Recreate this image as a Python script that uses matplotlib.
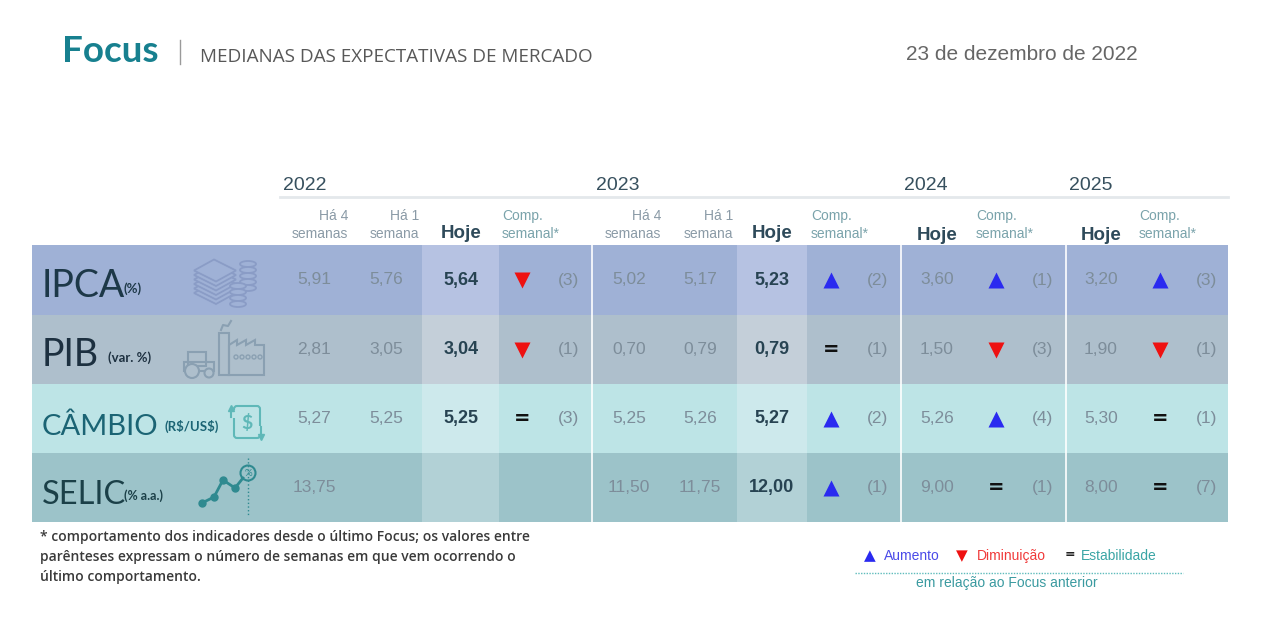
import matplotlib
matplotlib.use("Agg")
import matplotlib.pyplot as plt
from matplotlib.patches import Rectangle, Polygon, Ellipse, Circle, FancyBboxPatch

# ---- data ----
indicators = ["IPCA", "PIB", "CÂMBIO", "SELIC"]
units = ["(%)", "(var. %)", "(R$/US$)", "(% a.a.)"]

# 2022: ha 4 semanas, ha 1 semana, hoje, comp, semanas
y2022_4sem = [5.91, 2.81, 5.27, 13.75]
y2022_1sem = [5.76, 3.05, 5.25, None]
y2022_hoje = [5.64, 3.04, 5.25, None]
y2022_comp = ["down", "down", "eq", None]
y2022_wks = [3, 1, 3, None]

y2023_4sem = [5.02, 0.70, 5.25, 11.50]
y2023_1sem = [5.17, 0.79, 5.26, 11.75]
y2023_hoje = [5.23, 0.79, 5.27, 12.00]
y2023_comp = ["up", "eq", "up", "up"]
y2023_wks = [2, 1, 2, 1]

y2024_hoje = [3.60, 1.50, 5.26, 9.00]
y2024_comp = ["up", "down", "up", "eq"]
y2024_wks = [1, 3, 4, 1]

y2025_hoje = [3.20, 1.90, 5.30, 8.00]
y2025_comp = ["up", "down", "eq", "eq"]
y2025_wks = [3, 1, 1, 7]

# ---- style ----
row_bg = ["#9fb1d6", "#aebfcc", "#bde4e6", "#9cc3c9"]
row_hl = ["#b6c2e2", "#c4cfd9", "#cde9ec", "#b2d1d6"]
icon_col = ["#8a9cc6", "#8aa0b2", "#5fb8b8", "#2f8a90"]
label_col = ["#1d3848", "#1d3040", "#1b6474", "#1b4048"]
val_col = "#7d8d9a"
bold_col = "#274352"
up_col, down_col = "#2a2af0", "#ee1111"

SANS = "Liberation Sans"
LAB = "Lato"

fig = plt.figure(figsize=(12.88, 6.22), dpi=100)
ax = fig.add_axes([0, 0, 1, 1])
ax.set_xlim(0, 1288)
ax.set_ylim(622, 0)
ax.axis("off")

# title
ax.text(62, 51, "Focus", fontsize=26.5, fontweight="bold", color="#17808f",
        family=LAB, va="center", ha="left")
ax.plot([180, 180], [40, 64], color="#9a9a9a", lw=1)
ax.text(200, 57, "MEDIANAS DAS EXPECTATIVAS DE MERCADO", fontsize=13.6,
        color="#585858", family="Open Sans", va="center", ha="left")
ax.text(1138, 55, "23 de dezembro de 2022", fontsize=15, color="#666666",
        family=SANS, va="center", ha="right")

edges = [245, 315, 384, 453, 522]
left, right = 32, 1228
hl_spans = [(422, 499), (737, 807)]
seps = [592, 901, 1066]

for i in range(4):
    ax.add_patch(Rectangle((left, edges[i]), right - left, edges[i + 1] - edges[i],
                           facecolor=row_bg[i], edgecolor="none"))
    for a, b in hl_spans:
        ax.add_patch(Rectangle((a, edges[i]), b - a, edges[i + 1] - edges[i],
                               facecolor=row_hl[i], edgecolor="none"))
for s in seps:
    ax.plot([s, s], [edges[0], edges[-1]], color="white", lw=1.2)

# year header
ax.plot([280, 1228], [197, 197], color="#e4e8eb", lw=2)
for yr, x in zip(["2022", "2023", "2024", "2025"], [283, 596, 904, 1069]):
    ax.text(x, 185, yr, fontsize=14, color="#37505e", family=SANS,
            va="center", ha="left")

hdr_col = "#8a9aa6"
comp_col = "#7aa3ab"


def hdr_ha(xr, l1, l2):
    ax.text(xr, 216, l1, fontsize=10, color=hdr_col, family=SANS, ha="right", va="center")
    ax.text(xr, 234, l2, fontsize=10, color=hdr_col, family=SANS, ha="right", va="center")


def hdr_hoje(xc, y=234):
    ax.text(xc, y, "Hoje", fontsize=13.5, fontweight="bold", color="#2e4a5a",
            family=SANS, ha="center", va="center")


def hdr_comp(xl):
    ax.text(xl, 216, "Comp.", fontsize=10, color=comp_col, family=SANS, ha="left", va="center")
    ax.text(xl, 234, "semanal*", fontsize=10, color=comp_col, family=SANS, ha="left", va="center")


hdr_ha(348, "Há 4", "semanas")
hdr_ha(419, "Há 1", "semana")
hdr_hoje(461)
hdr_comp(502)
hdr_ha(661, "Há 4", "semanas")
hdr_ha(733, "Há 1", "semana")
hdr_hoje(772)
hdr_comp(811)
hdr_hoje(937, 236)
hdr_comp(976)
hdr_hoje(1101, 236)
hdr_comp(1139)


def fmt(v):
    return "" if v is None else f"{v:.2f}".replace(".", ",")


def val(x, y, v, bold=False):
    if v is None:
        return
    ax.text(x, y, fmt(v), fontsize=13 if bold else 12.5, family=SANS, ha="center",
            va="center", color=bold_col if bold else val_col,
            fontweight="bold" if bold else "normal")


def comp(x, y, c, n):
    if c is None:
        return
    if c == "up":
        ax.plot(x, y, marker="^", ms=11, color=up_col, mec="none")
    elif c == "down":
        ax.plot(x, y, marker="v", ms=11, color=down_col, mec="none")
    else:
        ax.text(x, y, "=", fontsize=14, fontweight="bold", color="#111111",
                family="DejaVu Sans", ha="center", va="center")
    ax.text(x + 47, y, f"({n})", fontsize=12.5, color=val_col, family=SANS,
            ha="center", va="center")


for i in range(4):
    yc = (edges[i] + edges[i + 1]) / 2
    val(314, yc, y2022_4sem[i])
    val(386, yc, y2022_1sem[i])
    val(461, yc, y2022_hoje[i], bold=True)
    comp(522, yc, y2022_comp[i], y2022_wks[i])
    val(629, yc, y2023_4sem[i])
    val(700, yc, y2023_1sem[i])
    val(772, yc, y2023_hoje[i], bold=True)
    comp(831, yc, y2023_comp[i], y2023_wks[i])
    val(937, yc, y2024_hoje[i])
    comp(996, yc, y2024_comp[i], y2024_wks[i])
    val(1101, yc, y2025_hoje[i])
    comp(1160, yc, y2025_comp[i], y2025_wks[i])

# row labels
lab_specs = [  # x of unit, label size, unit size
    (124, 27, 9.5),
    (108, 27, 9.5),
    (165, 21, 9.5),
    (124, 23.5, 9),
]
for i, (ux, fs, ufs) in enumerate(lab_specs):
    yb = edges[i + 1] - 18
    ax.text(42, yb, indicators[i], fontsize=fs, color=label_col[i], family=LAB,
            ha="left", va="baseline")
    ax.text(ux, yb - 4, units[i].replace("$", r"\$"), fontsize=ufs, fontweight="bold",
            color=label_col[i], family=LAB, ha="left", va="baseline")

# icons
c = icon_col[0]
for k in range(6):
    yy = 293 - k * 4.5
    ax.add_patch(Polygon([(194, yy), (214, yy - 11), (236, yy), (216, yy + 11)],
                         closed=True, facecolor=row_bg[0], edgecolor=c, lw=1.3))
for cx, ys in [(248, [264, 270, 276, 282, 288]), (238, [286, 292, 298, 304])]:
    for yy in ys:
        ax.add_patch(Ellipse((cx, yy), 16, 6, facecolor=row_bg[0], edgecolor=c, lw=1.3))

c = icon_col[1]
ax.add_patch(Rectangle((188, 352), 18, 14, facecolor="none", edgecolor=c, lw=1.5))
ax.add_patch(Rectangle((184, 362), 30, 9, facecolor="none", edgecolor=c, lw=1.5))
ax.add_patch(Circle((192, 371), 7, facecolor=row_bg[1], edgecolor=c, lw=1.5))
ax.add_patch(Circle((209, 373), 4.5, facecolor=row_bg[1], edgecolor=c, lw=1.5))
ax.add_patch(Rectangle((219, 333), 10, 42, facecolor="none", edgecolor=c, lw=1.5))
ax.plot([221, 223, 228, 231], [330, 325, 326, 321], color=c, lw=1.5)
ax.add_patch(Polygon([(229, 375), (229, 345), (237, 340), (237, 345), (246, 340),
                      (246, 345), (255, 340), (255, 345), (264, 345), (264, 375)],
                     closed=True, facecolor="none", edgecolor=c, lw=1.5))
for k in range(5):
    ax.add_patch(Circle((236 + k * 6, 357), 2, facecolor="none", edgecolor=c, lw=1))

c = icon_col[2]
ax.add_patch(FancyBboxPatch((234, 406), 26, 32, boxstyle="round,pad=0,rounding_size=3",
                            facecolor="none", edgecolor=c, lw=1.5))
ax.add_patch(Rectangle((228, 410), 8, 8, facecolor=row_bg[2], edgecolor="none"))
ax.add_patch(Rectangle((256, 426), 8, 10, facecolor=row_bg[2], edgecolor="none"))
ax.plot([231, 231], [417, 409], color=c, lw=1.5)
ax.plot(231, 408, marker="^", ms=4, color=c)
ax.plot([261, 261], [427, 436], color=c, lw=1.5)
ax.plot(261, 437, marker="v", ms=4, color=c)
ax.text(247, 423, r"\$", fontsize=14, fontweight="bold", color=c, family=LAB,
        ha="center", va="center")

c = icon_col[3]
xs = [202, 214, 223, 235]
ys = [503, 497, 480, 488]
ax.plot(xs, ys, color=c, lw=2, marker="o", ms=5)
ax.plot([235, 243], [488, 478], color=c, lw=2)
ax.plot([248, 248], [458, 516], color=c, lw=1, ls=":")
ax.add_patch(Circle((248, 473), 7.5, facecolor=row_bg[3], edgecolor=c, lw=1.5))
ax.text(248, 473, "%", fontsize=7, color=c, ha="center", va="center", family=LAB)

# footnote
foot = ["* comportamento dos indicadores desde o último Focus; os valores entre",
        "parênteses expressam o número de semanas em que vem ocorrendo o",
        "último comportamento."]
for k, line in enumerate(foot):
    ax.text(40, 537 + k * 20, line, fontsize=10, fontweight="semibold", color="#3a3a3a",
            family="Open Sans", ha="left", va="center")

# legend
ax.text(864, 556, "▲", fontsize=11, color=up_col, family="DejaVu Sans", ha="left", va="center")
ax.text(884, 556, "Aumento", fontsize=10, color="#4a4ae8", family=SANS, ha="left", va="center")
ax.text(956, 556, "▼", fontsize=11, color=down_col, family="DejaVu Sans", ha="left", va="center")
ax.text(977, 556, "Diminuição", fontsize=10, color="#f03a3a", family=SANS, ha="left", va="center")
ax.text(1065, 555, "=", fontsize=9, fontweight="bold", color="#222222", family="DejaVu Sans",
        ha="left", va="center")
ax.text(1081, 556, "Estabilidade", fontsize=10, color="#3aa5a5", family=SANS, ha="left", va="center")
ax.plot([855, 1183], [573, 573], color="#5fbcbc", lw=1, ls=(0, (1, 1)))
ax.text(1007, 583, "em relação ao Focus anterior", fontsize=10, color="#3a9aa0",
        family=SANS, ha="center", va="center")

fig.savefig("out.png", dpi=100, facecolor="white")
